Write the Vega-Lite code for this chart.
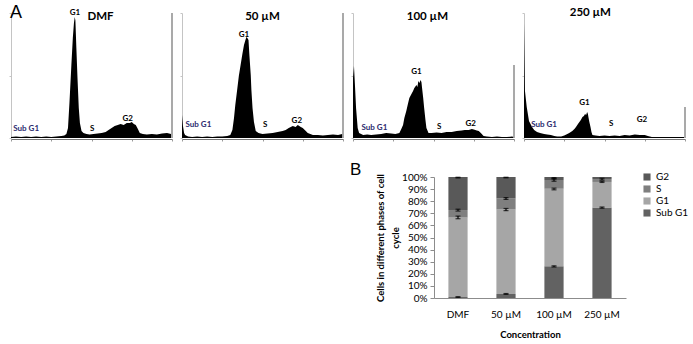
{
 "$schema": "https://vega.github.io/schema/vega-lite/v6.json",
 "padding": {"left": 8, "top": 3, "right": 4, "bottom": 4},
 "background": "white",
 "config": {"view": {"stroke": null}, "font": "Lato"},
 "resolve": {"scale": {"color": "independent"}, "legend": {"color": "independent"}},
 "datasets": {
  "hist": [
   {"p":"DMF","k":"h","ch":0,"n":4},{"p":"DMF","k":"h","ch":31,"n":6},{"p":"DMF","k":"h","ch":63,"n":4},{"p":"DMF","k":"h","ch":94,"n":6},{"p":"DMF","k":"h","ch":125,"n":4},{"p":"DMF","k":"h","ch":156,"n":6},{"p":"DMF","k":"h","ch":188,"n":4},{"p":"DMF","k":"h","ch":219,"n":6},{"p":"DMF","k":"h","ch":250,"n":4},{"p":"DMF","k":"h","ch":281,"n":6},{"p":"DMF","k":"h","ch":313,"n":8},{"p":"DMF","k":"h","ch":331,"n":10},{"p":"DMF","k":"h","ch":344,"n":16},{"p":"DMF","k":"h","ch":354,"n":40},{"p":"DMF","k":"h","ch":363,"n":140},{"p":"DMF","k":"h","ch":375,"n":292},{"p":"DMF","k":"h","ch":384,"n":400},{"p":"DMF","k":"h","ch":391,"n":460},{"p":"DMF","k":"h","ch":396,"n":484},{"p":"DMF","k":"h","ch":400,"n":470},{"p":"DMF","k":"h","ch":406,"n":360},{"p":"DMF","k":"h","ch":413,"n":240},{"p":"DMF","k":"h","ch":421,"n":120},{"p":"DMF","k":"h","ch":428,"n":60},{"p":"DMF","k":"h","ch":438,"n":28},{"p":"DMF","k":"h","ch":450,"n":20},{"p":"DMF","k":"h","ch":469,"n":16},{"p":"DMF","k":"h","ch":488,"n":14},{"p":"DMF","k":"h","ch":513,"n":16},{"p":"DMF","k":"h","ch":538,"n":18},{"p":"DMF","k":"h","ch":563,"n":20},{"p":"DMF","k":"h","ch":588,"n":24},{"p":"DMF","k":"h","ch":606,"n":32},{"p":"DMF","k":"h","ch":625,"n":40},{"p":"DMF","k":"h","ch":644,"n":48},{"p":"DMF","k":"h","ch":663,"n":52},{"p":"DMF","k":"h","ch":681,"n":56},{"p":"DMF","k":"h","ch":700,"n":52},{"p":"DMF","k":"h","ch":719,"n":60},{"p":"DMF","k":"h","ch":738,"n":60},{"p":"DMF","k":"h","ch":750,"n":64},{"p":"DMF","k":"h","ch":763,"n":56},{"p":"DMF","k":"h","ch":775,"n":52},{"p":"DMF","k":"h","ch":788,"n":36},{"p":"DMF","k":"h","ch":800,"n":20},{"p":"DMF","k":"h","ch":819,"n":16},{"p":"DMF","k":"h","ch":844,"n":14},{"p":"DMF","k":"h","ch":875,"n":16},{"p":"DMF","k":"h","ch":906,"n":14},{"p":"DMF","k":"h","ch":938,"n":18},{"p":"DMF","k":"h","ch":969,"n":20},{"p":"DMF","k":"h","ch":994,"n":16},
   {"p":"50 µM","k":"h","ch":0,"n":92},{"p":"50 µM","k":"h","ch":6,"n":48},{"p":"50 µM","k":"h","ch":13,"n":20},{"p":"50 µM","k":"h","ch":19,"n":12},{"p":"50 µM","k":"h","ch":38,"n":6},{"p":"50 µM","k":"h","ch":63,"n":4},{"p":"50 µM","k":"h","ch":94,"n":6},{"p":"50 µM","k":"h","ch":125,"n":4},{"p":"50 µM","k":"h","ch":156,"n":6},{"p":"50 µM","k":"h","ch":188,"n":4},{"p":"50 µM","k":"h","ch":219,"n":6},{"p":"50 µM","k":"h","ch":250,"n":6},{"p":"50 µM","k":"h","ch":281,"n":8},{"p":"50 µM","k":"h","ch":300,"n":12},{"p":"50 µM","k":"h","ch":313,"n":32},{"p":"50 µM","k":"h","ch":323,"n":80},{"p":"50 µM","k":"h","ch":331,"n":132},{"p":"50 µM","k":"h","ch":344,"n":200},{"p":"50 µM","k":"h","ch":353,"n":248},{"p":"50 µM","k":"h","ch":364,"n":292},{"p":"50 µM","k":"h","ch":375,"n":336},{"p":"50 µM","k":"h","ch":385,"n":372},{"p":"50 µM","k":"h","ch":394,"n":392},{"p":"50 µM","k":"h","ch":400,"n":404},{"p":"50 µM","k":"h","ch":406,"n":400},{"p":"50 µM","k":"h","ch":413,"n":392},{"p":"50 µM","k":"h","ch":419,"n":328},{"p":"50 µM","k":"h","ch":427,"n":252},{"p":"50 µM","k":"h","ch":431,"n":192},{"p":"50 µM","k":"h","ch":438,"n":120},{"p":"50 µM","k":"h","ch":447,"n":64},{"p":"50 µM","k":"h","ch":458,"n":28},{"p":"50 µM","k":"h","ch":475,"n":20},{"p":"50 µM","k":"h","ch":500,"n":16},{"p":"50 µM","k":"h","ch":531,"n":18},{"p":"50 µM","k":"h","ch":563,"n":20},{"p":"50 µM","k":"h","ch":594,"n":24},{"p":"50 µM","k":"h","ch":625,"n":28},{"p":"50 µM","k":"h","ch":644,"n":32},{"p":"50 µM","k":"h","ch":663,"n":40},{"p":"50 µM","k":"h","ch":688,"n":48},{"p":"50 µM","k":"h","ch":706,"n":44},{"p":"50 µM","k":"h","ch":719,"n":52},{"p":"50 µM","k":"h","ch":738,"n":44},{"p":"50 µM","k":"h","ch":750,"n":40},{"p":"50 µM","k":"h","ch":769,"n":28},{"p":"50 µM","k":"h","ch":781,"n":20},{"p":"50 µM","k":"h","ch":813,"n":12},{"p":"50 µM","k":"h","ch":844,"n":12},{"p":"50 µM","k":"h","ch":875,"n":10},{"p":"50 µM","k":"h","ch":906,"n":12},{"p":"50 µM","k":"h","ch":938,"n":14},{"p":"50 µM","k":"h","ch":969,"n":12},{"p":"50 µM","k":"h","ch":995,"n":16},
   {"p":"100 µM","k":"h","ch":0,"n":240},{"p":"100 µM","k":"h","ch":6,"n":288},{"p":"100 µM","k":"h","ch":13,"n":200},{"p":"100 µM","k":"h","ch":19,"n":120},{"p":"100 µM","k":"h","ch":29,"n":40},{"p":"100 µM","k":"h","ch":38,"n":20},{"p":"100 µM","k":"h","ch":63,"n":12},{"p":"100 µM","k":"h","ch":88,"n":14},{"p":"100 µM","k":"h","ch":113,"n":12},{"p":"100 µM","k":"h","ch":144,"n":14},{"p":"100 µM","k":"h","ch":175,"n":16},{"p":"100 µM","k":"h","ch":206,"n":20},{"p":"100 µM","k":"h","ch":238,"n":18},{"p":"100 µM","k":"h","ch":263,"n":16},{"p":"100 µM","k":"h","ch":288,"n":20},{"p":"100 µM","k":"h","ch":300,"n":36},{"p":"100 µM","k":"h","ch":311,"n":52},{"p":"100 µM","k":"h","ch":319,"n":80},{"p":"100 µM","k":"h","ch":331,"n":108},{"p":"100 µM","k":"h","ch":341,"n":136},{"p":"100 µM","k":"h","ch":350,"n":160},{"p":"100 µM","k":"h","ch":363,"n":176},{"p":"100 µM","k":"h","ch":373,"n":188},{"p":"100 µM","k":"h","ch":381,"n":200},{"p":"100 µM","k":"h","ch":394,"n":212},{"p":"100 µM","k":"h","ch":400,"n":204},{"p":"100 µM","k":"h","ch":406,"n":228},{"p":"100 µM","k":"h","ch":413,"n":220},{"p":"100 µM","k":"h","ch":419,"n":232},{"p":"100 µM","k":"h","ch":425,"n":224},{"p":"100 µM","k":"h","ch":429,"n":200},{"p":"100 µM","k":"h","ch":436,"n":160},{"p":"100 µM","k":"h","ch":442,"n":120},{"p":"100 µM","k":"h","ch":450,"n":72},{"p":"100 µM","k":"h","ch":456,"n":40},{"p":"100 µM","k":"h","ch":469,"n":20},{"p":"100 µM","k":"h","ch":488,"n":20},{"p":"100 µM","k":"h","ch":519,"n":22},{"p":"100 µM","k":"h","ch":550,"n":20},{"p":"100 µM","k":"h","ch":581,"n":24},{"p":"100 µM","k":"h","ch":613,"n":24},{"p":"100 µM","k":"h","ch":644,"n":28},{"p":"100 µM","k":"h","ch":675,"n":30},{"p":"100 µM","k":"h","ch":694,"n":32},{"p":"100 µM","k":"h","ch":719,"n":32},{"p":"100 µM","k":"h","ch":738,"n":36},{"p":"100 µM","k":"h","ch":750,"n":34},{"p":"100 µM","k":"h","ch":769,"n":30},{"p":"100 µM","k":"h","ch":781,"n":28},{"p":"100 µM","k":"h","ch":794,"n":20},{"p":"100 µM","k":"h","ch":811,"n":8},{"p":"100 µM","k":"h","ch":831,"n":6},{"p":"100 µM","k":"h","ch":863,"n":4},{"p":"100 µM","k":"h","ch":894,"n":6},{"p":"100 µM","k":"h","ch":925,"n":4},{"p":"100 µM","k":"h","ch":956,"n":4},{"p":"100 µM","k":"h","ch":988,"n":6},{"p":"100 µM","k":"h","ch":997,"n":4},
   {"p":"250 µM","k":"h","ch":0,"n":460},{"p":"250 µM","k":"h","ch":6,"n":188},{"p":"250 µM","k":"h","ch":17,"n":124},{"p":"250 µM","k":"h","ch":31,"n":68},{"p":"250 µM","k":"h","ch":50,"n":44},{"p":"250 µM","k":"h","ch":63,"n":32},{"p":"250 µM","k":"h","ch":81,"n":24},{"p":"250 µM","k":"h","ch":100,"n":20},{"p":"250 µM","k":"h","ch":125,"n":16},{"p":"250 µM","k":"h","ch":144,"n":14},{"p":"250 µM","k":"h","ch":167,"n":12},{"p":"250 µM","k":"h","ch":188,"n":8},{"p":"250 µM","k":"h","ch":206,"n":6},{"p":"250 µM","k":"h","ch":231,"n":6},{"p":"250 µM","k":"h","ch":250,"n":10},{"p":"250 µM","k":"h","ch":269,"n":16},{"p":"250 µM","k":"h","ch":281,"n":20},{"p":"250 µM","k":"h","ch":300,"n":28},{"p":"250 µM","k":"h","ch":313,"n":36},{"p":"250 µM","k":"h","ch":323,"n":44},{"p":"250 µM","k":"h","ch":331,"n":52},{"p":"250 µM","k":"h","ch":344,"n":64},{"p":"250 µM","k":"h","ch":353,"n":72},{"p":"250 µM","k":"h","ch":363,"n":84},{"p":"250 µM","k":"h","ch":372,"n":88},{"p":"250 µM","k":"h","ch":379,"n":96},{"p":"250 µM","k":"h","ch":386,"n":92},{"p":"250 µM","k":"h","ch":392,"n":104},{"p":"250 µM","k":"h","ch":397,"n":96},{"p":"250 µM","k":"h","ch":400,"n":84},{"p":"250 µM","k":"h","ch":406,"n":64},{"p":"250 µM","k":"h","ch":413,"n":44},{"p":"250 µM","k":"h","ch":419,"n":24},{"p":"250 µM","k":"h","ch":425,"n":12},{"p":"250 µM","k":"h","ch":444,"n":10},{"p":"250 µM","k":"h","ch":469,"n":8},{"p":"250 µM","k":"h","ch":500,"n":10},{"p":"250 µM","k":"h","ch":531,"n":8},{"p":"250 µM","k":"h","ch":563,"n":10},{"p":"250 µM","k":"h","ch":594,"n":8},{"p":"250 µM","k":"h","ch":625,"n":12},{"p":"250 µM","k":"h","ch":656,"n":10},{"p":"250 µM","k":"h","ch":688,"n":14},{"p":"250 µM","k":"h","ch":719,"n":12},{"p":"250 µM","k":"h","ch":750,"n":12},{"p":"250 µM","k":"h","ch":769,"n":8},{"p":"250 µM","k":"h","ch":794,"n":4},{"p":"250 µM","k":"h","ch":844,"n":4},{"p":"250 µM","k":"h","ch":906,"n":4},{"p":"250 µM","k":"h","ch":969,"n":4},{"p":"250 µM","k":"h","ch":994,"n":4},
   {"p":"DMF","k":"e","ch":1000,"n":500},{"p":"50 µM","k":"e","ch":1000,"n":500},{"p":"100 µM","k":"e","ch":1000,"n":292},{"p":"250 µM","k":"e","ch":1000,"n":124},
   {"p":"DMF","k":"A","ch":31,"n":502,"t":"A"},
   {"p":"DMF","k":"T","ch":556,"n":484,"t":"DMF"},{"p":"50 µM","k":"T","ch":500,"n":483,"t":"50 µM"},{"p":"100 µM","k":"T","ch":462,"n":483,"t":"100 µM"},{"p":"250 µM","k":"T","ch":412,"n":499,"t":"250 µM"},
   {"p":"DMF","k":"l","ch":397,"n":500,"t":"G1"},{"p":"DMF","k":"l","ch":504,"n":36,"t":"S"},{"p":"DMF","k":"l","ch":725,"n":77,"t":"G2"},{"p":"DMF","k":"l","ch":94,"n":36,"t":"Sub G1"},
   {"p":"50 µM","k":"l","ch":385,"n":413,"t":"G1"},{"p":"50 µM","k":"l","ch":517,"n":53,"t":"S"},{"p":"50 µM","k":"l","ch":713,"n":67,"t":"G2"},{"p":"50 µM","k":"l","ch":102,"n":53,"t":"Sub G1"},
   {"p":"100 µM","k":"l","ch":394,"n":264,"t":"G1"},{"p":"100 µM","k":"l","ch":535,"n":43,"t":"S"},{"p":"100 µM","k":"l","ch":731,"n":56,"t":"G2"},{"p":"100 µM","k":"l","ch":133,"n":40,"t":"Sub G1"},
   {"p":"250 µM","k":"l","ch":375,"n":140,"t":"G1"},{"p":"250 µM","k":"l","ch":542,"n":56,"t":"S"},{"p":"250 µM","k":"l","ch":733,"n":72,"t":"G2"},{"p":"250 µM","k":"l","ch":125,"n":53,"t":"Sub G1"}
  ],
  "bars": [
   {"c":"DMF","phase":"Sub G1","lo":0,"hi":0.008},{"c":"DMF","phase":"G1","lo":0.008,"hi":0.665},{"c":"DMF","phase":"S","lo":0.665,"hi":0.727},{"c":"DMF","phase":"G2","lo":0.727,"hi":1},
   {"c":"50 µM","phase":"Sub G1","lo":0,"hi":0.034},{"c":"50 µM","phase":"G1","lo":0.034,"hi":0.731},{"c":"50 µM","phase":"S","lo":0.731,"hi":0.823},{"c":"50 µM","phase":"G2","lo":0.823,"hi":1},
   {"c":"100 µM","phase":"Sub G1","lo":0,"hi":0.262},{"c":"100 µM","phase":"G1","lo":0.262,"hi":0.903},{"c":"100 µM","phase":"S","lo":0.903,"hi":0.975},{"c":"100 µM","phase":"G2","lo":0.975,"hi":1},
   {"c":"250 µM","phase":"Sub G1","lo":0,"hi":0.748},{"c":"250 µM","phase":"G1","lo":0.748,"hi":0.959},{"c":"250 µM","phase":"S","lo":0.959,"hi":0.983},{"c":"250 µM","phase":"G2","lo":0.983,"hi":1}
  ],
  "errs": [
   {"c":"DMF","lo":0.005,"hi":0.011},{"c":"DMF","lo":0.655,"hi":0.677},{"c":"DMF","lo":0.718,"hi":0.734},{"c":"DMF","lo":0.992,"hi":0.998},
   {"c":"50 µM","lo":0.03,"hi":0.037},{"c":"50 µM","lo":0.722,"hi":0.74},{"c":"50 µM","lo":0.815,"hi":0.83},{"c":"50 µM","lo":0.993,"hi":0.998},
   {"c":"100 µM","lo":0.256,"hi":0.266},{"c":"100 µM","lo":0.894,"hi":0.908},{"c":"100 µM","lo":0.965,"hi":0.985},{"c":"100 µM","lo":0.985,"hi":0.995},
   {"c":"250 µM","lo":0.742,"hi":0.752},{"c":"250 µM","lo":0.955,"hi":0.965},{"c":"250 µM","lo":0.975,"hi":0.99}
  ]
 },
 "spacing": 19,
 "vconcat": [
  {
   "data": {"name": "hist"},
   "facet": {"column": {"field": "p", "type": "nominal", "sort": ["DMF", "50 µM", "100 µM", "250 µM"], "header": {"labels": false, "title": null}}},
   "spacing": 6,
   "resolve": {"axis": {"y": "independent"}},
   "spec": {
    "width": 161,
    "height": 125,
    "layer": [
     {
      "transform": [{"filter": "datum.k === 'h'"}],
      "mark": {"type": "area", "color": "black", "interpolate": "linear"},
      "encoding": {
       "x": {"field": "ch", "type": "quantitative", "scale": {"domain": [0, 1000], "nice": false},
             "axis": {"values": [0,125,250,375,500,625,750,875,1000], "labels": false, "tickSize": 2, "domainColor": "#777", "tickColor": "#999", "title": null, "grid": false}},
       "y": {"field": "n", "type": "quantitative", "scale": {"domain": [0, 500], "nice": false},
             "axis": {"values": [0,125,250,375,500], "labels": false, "tickSize": 2, "domainColor": "#c4c4c4", "tickColor": "#c4c4c4", "title": null, "grid": false}}
      }
     },
     {
      "transform": [{"filter": "datum.k === 'e'"}],
      "mark": {"type": "rule", "color": "#8c8c8c", "strokeWidth": 1.5},
      "encoding": {
       "x": {"field": "ch", "type": "quantitative"},
       "y": {"field": "n", "type": "quantitative"},
       "y2": {"datum": 0}
      }
     },
     {
      "transform": [{"filter": "datum.k === 'l'"}],
      "mark": {"type": "text", "fontWeight": "bold", "fontSize": 8},
      "encoding": {
       "x": {"field": "ch", "type": "quantitative"},
       "y": {"field": "n", "type": "quantitative"},
       "text": {"field": "t"},
       "color": {"condition": {"test": "datum.t === 'Sub G1'", "value": "#2b2b6e"}, "value": "black"}
      }
     },
     {
      "transform": [{"filter": "datum.k === 'T'"}],
      "mark": {"type": "text", "fontWeight": "bold", "fontSize": 11.5, "color": "black"},
      "encoding": {
       "x": {"field": "ch", "type": "quantitative"},
       "y": {"field": "n", "type": "quantitative"},
       "text": {"field": "t"}
      }
     },
     {
      "transform": [{"filter": "datum.k === 'A'"}],
      "mark": {"type": "text", "fontSize": 18, "font": "Liberation Sans", "color": "black"},
      "encoding": {
       "x": {"field": "ch", "type": "quantitative"},
       "y": {"field": "n", "type": "quantitative"},
       "text": {"field": "t"}
      }
     }
    ]
   }
  },
  {
   "spacing": 0,
   "resolve": {"scale": {"color": "independent"}, "legend": {"color": "independent"}},
   "hconcat": [
    {
     "width": 339,
     "height": 1,
     "data": {"values": [{"a": 0}]},
     "mark": {"type": "point", "opacity": 0},
     "encoding": {}
    },
    {
     "width": 192,
     "height": 121,
     "title": {"text": "B", "anchor": "start", "frame": "group", "fontSize": 17, "fontWeight": "normal", "font": "Liberation Sans", "color": "black", "dx": -84, "offset": -7},
     "layer": [
      {
       "data": {"name": "bars"},
       "mark": {"type": "bar"},
       "encoding": {
        "x": {"field": "c", "type": "nominal", "sort": ["DMF", "50 µM", "100 µM", "250 µM"], "scale": {"paddingInner": 0.6, "paddingOuter": 0.3},
              "axis": {"title": "Concentration", "labelAngle": 0, "ticks": false, "domainColor": "#8c8c8c", "labelFontSize": 10, "labelPadding": 11, "labelColor": "black", "titleFontSize": 9.5, "titleFontWeight": "bold", "titlePadding": 10, "titleColor": "black"}},
        "y": {"field": "lo", "type": "quantitative", "scale": {"domain": [0, 1], "nice": false},
              "axis": {"values": [0,0.1,0.2,0.3,0.4,0.5,0.6,0.7,0.8,0.9,1], "tickCount": 11, "format": ".0%", "labelOverlap": false, "title": ["Cells in different phases of cell", "cycle"], "titleFontSize": 9.5, "titleFontWeight": "bold", "titleLineHeight": 15, "titlePadding": 1, "titleColor": "black", "labelFontSize": 10, "labelPadding": 3, "labelColor": "black", "tickSize": 4, "domainColor": "#8c8c8c", "tickColor": "#8c8c8c", "grid": false}},
        "y2": {"field": "hi"},
        "color": {"field": "phase", "type": "nominal",
                  "scale": {"domain": ["G2", "S", "G1", "Sub G1"], "range": ["#595959", "#7f7f7f", "#a6a6a6", "#626262"]},
                  "legend": {"title": null, "orient": "none", "legendX": 208, "legendY": -5, "symbolType": "square", "symbolSize": 50, "symbolStrokeWidth": 0, "labelFontSize": 10, "labelColor": "black", "rowPadding": 2, "padding": 0}}
       }
      },
      {
       "data": {"name": "errs"},
       "mark": {"type": "rule", "color": "black", "strokeWidth": 1.2},
       "encoding": {
        "x": {"field": "c", "type": "nominal", "sort": ["DMF", "50 µM", "100 µM", "250 µM"],
              "axis": {"title": "Concentration", "labelAngle": 0, "ticks": false, "domainColor": "#8c8c8c", "labelFontSize": 10, "labelPadding": 11, "labelColor": "black", "titleFontSize": 9.5, "titleFontWeight": "bold", "titlePadding": 10, "titleColor": "black"}},
        "y": {"field": "lo", "type": "quantitative",
              "axis": {"values": [0,0.1,0.2,0.3,0.4,0.5,0.6,0.7,0.8,0.9,1], "tickCount": 11, "format": ".0%", "labelOverlap": false, "title": ["Cells in different phases of cell", "cycle"], "titleFontSize": 9.5, "titleFontWeight": "bold", "titleLineHeight": 15, "titlePadding": 1, "titleColor": "black", "labelFontSize": 10, "labelPadding": 3, "labelColor": "black", "tickSize": 4, "domainColor": "#8c8c8c", "tickColor": "#8c8c8c", "grid": false}},
        "y2": {"field": "hi"}
       }
      },
      {
       "data": {"name": "errs"},
       "mark": {"type": "tick", "color": "black", "thickness": 1.2, "size": 5},
       "encoding": {
        "x": {"field": "c", "type": "nominal", "sort": ["DMF", "50 µM", "100 µM", "250 µM"],
              "axis": {"title": "Concentration", "labelAngle": 0, "ticks": false, "domainColor": "#8c8c8c", "labelFontSize": 10, "labelPadding": 11, "labelColor": "black", "titleFontSize": 9.5, "titleFontWeight": "bold", "titlePadding": 10, "titleColor": "black"}},
        "y": {"field": "lo", "type": "quantitative",
              "axis": {"values": [0,0.1,0.2,0.3,0.4,0.5,0.6,0.7,0.8,0.9,1], "tickCount": 11, "format": ".0%", "labelOverlap": false, "title": ["Cells in different phases of cell", "cycle"], "titleFontSize": 9.5, "titleFontWeight": "bold", "titleLineHeight": 15, "titlePadding": 1, "titleColor": "black", "labelFontSize": 10, "labelPadding": 3, "labelColor": "black", "tickSize": 4, "domainColor": "#8c8c8c", "tickColor": "#8c8c8c", "grid": false}}
       }
      },
      {
       "data": {"name": "errs"},
       "mark": {"type": "tick", "color": "black", "thickness": 1.2, "size": 5},
       "encoding": {
        "x": {"field": "c", "type": "nominal", "sort": ["DMF", "50 µM", "100 µM", "250 µM"],
              "axis": {"title": "Concentration", "labelAngle": 0, "ticks": false, "domainColor": "#8c8c8c", "labelFontSize": 10, "labelPadding": 11, "labelColor": "black", "titleFontSize": 9.5, "titleFontWeight": "bold", "titlePadding": 10, "titleColor": "black"}},
        "y": {"field": "hi", "type": "quantitative",
              "axis": {"values": [0,0.1,0.2,0.3,0.4,0.5,0.6,0.7,0.8,0.9,1], "tickCount": 11, "format": ".0%", "labelOverlap": false, "title": ["Cells in different phases of cell", "cycle"], "titleFontSize": 9.5, "titleFontWeight": "bold", "titleLineHeight": 15, "titlePadding": 1, "titleColor": "black", "labelFontSize": 10, "labelPadding": 3, "labelColor": "black", "tickSize": 4, "domainColor": "#8c8c8c", "tickColor": "#8c8c8c", "grid": false}}
       }
      }
     ]
    }
   ]
  }
 ]
}
